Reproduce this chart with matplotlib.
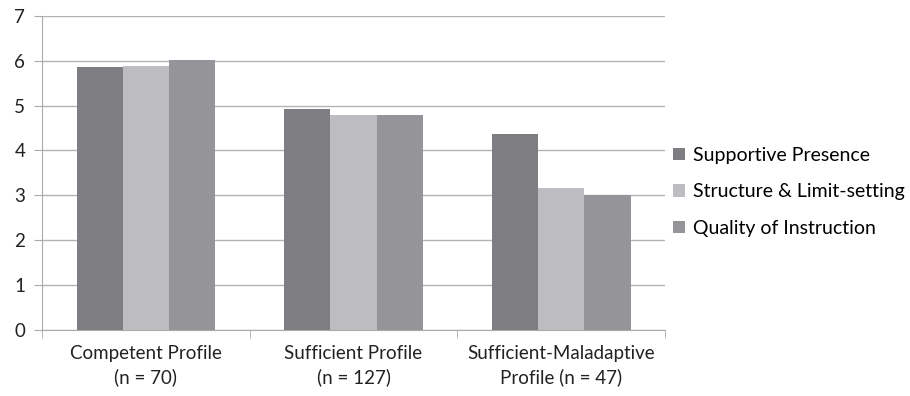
import matplotlib.pyplot as plt
import numpy as np

plt.rcParams['font.family'] = ['Lato', 'DejaVu Sans']

profiles = ['Competent Profile\n(n = 70)', 'Sufficient Profile\n(n = 127)',
            'Sufficient-Maladaptive\nProfile (n = 47)']
series = ['Supportive Presence', 'Structure & Limit-setting', 'Quality of Instruction']
supportive = [5.85, 4.93, 4.36]
structure = [5.89, 4.79, 3.17]
instruction = [6.02, 4.80, 3.00]
colors = ['#7e7e82', '#bdbdc1', '#959599']

fig = plt.figure(figsize=(9.1, 3.96), dpi=100)
ax = fig.add_axes([0.046, 0.167, 0.685, 0.793])

x = np.arange(len(profiles))
w = 0.222
for i, (vals, name) in enumerate(zip([supportive, structure, instruction], series)):
    ax.bar(x + (i - 1) * w, vals, w, color=colors[i], label=name, zorder=3)

ax.set_xlim(-0.5, 2.5)
ax.set_ylim(0, 7)
ax.set_yticks(range(8))
ax.yaxis.grid(True, color='#b3b3b3', linewidth=1.0, zorder=0)
ax.set_xticks(x)
ax.set_xticklabels(profiles, fontsize=13.5, color='#222222', linespacing=1.4)
ax.set_xticks([-0.5, 0.5, 1.5, 2.5], minor=True)
ax.tick_params(axis='x', which='major', length=0, pad=11)
ax.tick_params(axis='x', which='minor', length=6, color='#aaaaaa')
ax.tick_params(axis='y', length=6, color='#aaaaaa', labelsize=13.5, labelcolor='#222222', pad=6)
for s in ['top', 'right']:
    ax.spines[s].set_visible(False)
for s in ['left', 'bottom']:
    ax.spines[s].set_color('#aaaaaa')

ax.legend(loc='center left', bbox_to_anchor=(0.985, 0.44), frameon=False, fontsize=14,
          handlelength=0.6, handleheight=0.6, handletextpad=0.4, labelspacing=1.0)

fig.savefig('out.png', dpi=100)
